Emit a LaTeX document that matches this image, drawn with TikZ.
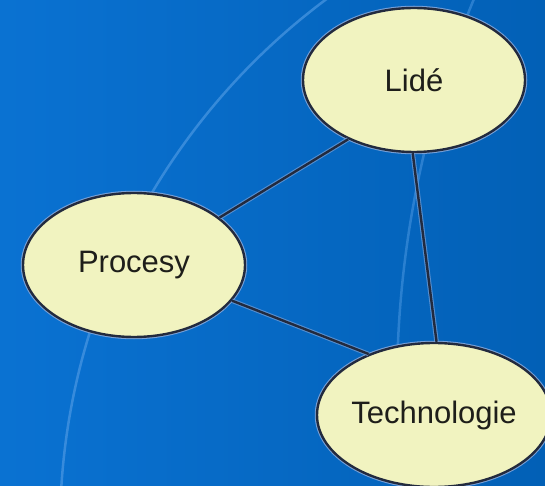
\documentclass[tikz,border=0pt]{standalone}
\usepackage{fontspec}
\setmainfont{Liberation Sans}
\usetikzlibrary{shapes.geometric}
\definecolor{bgleft}{RGB}{10,114,210}
\definecolor{bgright}{RGB}{2,96,182}
\definecolor{arccol}{RGB}{80,155,228}
\definecolor{ellfill}{RGB}{241,243,192}
\definecolor{edgecol}{RGB}{34,42,62}
\definecolor{halocol}{RGB}{120,160,215}
\definecolor{txtcol}{RGB}{30,30,26}
\tikzset{
  topic/.style={ellipse, draw=edgecol, line width=2.4pt, fill=ellfill,
    minimum width=222pt, minimum height=144pt, inner sep=0pt,
    text=txtcol, font=\fontsize{31}{36}\selectfont,
    preaction={draw=halocol, line width=4.5pt}},
  link/.style={draw=edgecol, line width=2.4pt,
    preaction={draw=halocol, line width=4.5pt, opacity=0.7}},
  deco/.style={draw=arccol, line width=2.5pt, opacity=0.65}
}
\begin{document}
\begin{tikzpicture}[x=1pt,y=1pt]
\useasboundingbox (0,0) rectangle (545,485);
\shade[left color=bgleft, right color=bgright] (0,0) rectangle (545,485);
\begin{scope}
\clip (0,0) rectangle (545,485);
\draw[deco] (720,-44) circle[radius=660];
\draw[deco, opacity=0.5] (1413,97.5) circle[radius=1016];
\node[topic] (l) at (414,405) {Lidé};
\node[topic] (p) at (134,220) {Procesy};
\node[topic] (t) at (434,70) {Technologie};
\draw[link] (p.29) -- (l.222);
\draw[link] (l.269) -- (t.88);
\draw[link] (p.340) -- (t.137);
\end{scope}
\end{tikzpicture}
\end{document}
